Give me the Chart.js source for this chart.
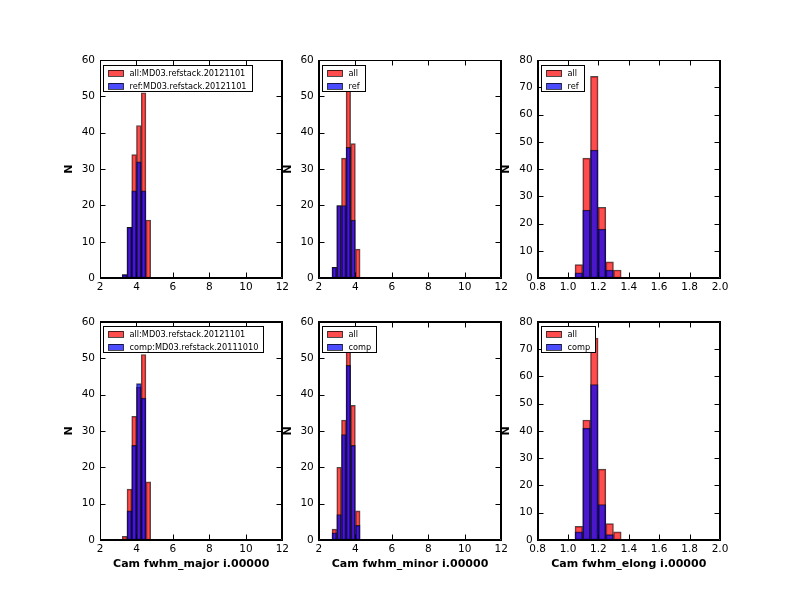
<!DOCTYPE html>
<html>
<head>
<meta charset="utf-8">
<script src="https://cdn.jsdelivr.net/npm/chart.js@4/dist/chart.umd.min.js"></script>
<style>
  body { margin: 0; background: #fff; }
  #fig { position: relative; width: 800px; height: 600px; background: #fff; }
  #fig canvas { position: absolute; left: 0; top: 0; }
</style>
</head>
<body>
<div id="fig"></div>
<script>
// histogram bin centres and counts
const majorBins = [3.35, 3.61, 3.87, 4.13, 4.39, 4.65];
const majorAll = [1, 14, 34, 42, 51, 16];
const majorRef = [1, 14, 24, 32, 24, 0];
const majorComp = [0, 8, 26, 43, 39, 0];

const minorBins = [2.85, 3.11, 3.37, 3.62, 3.88, 4.14];
const minorAll = [3, 20, 33, 57, 37, 8];
const minorRef = [3, 20, 20, 36, 16, 0];
const minorComp = [2, 7, 29, 48, 26, 4];

const elongBins = [1.071, 1.122, 1.173, 1.224, 1.274, 1.325];
const elongAll = [5, 44, 74, 26, 6, 3];
const elongRef = [2, 25, 47, 18, 3, 0];
const elongComp = [3, 41, 57, 13, 2, 0];

// tick labels
const fwhmTicks = [2, 4, 6, 8, 10, 12];
const elongTicks = [0.8, 1.0, 1.2, 1.4, 1.6, 1.8, 2.0];
const count60Ticks = [0, 10, 20, 30, 40, 50, 60];
const count80Ticks = [0, 10, 20, 30, 40, 50, 60, 70, 80];

// legend and axis texts
const allLong = 'all:MD03.refstack.20121101';
const refLong = 'ref:MD03.refstack.20121101';
const compLong = 'comp:MD03.refstack.20111010';
const xTitles = ['Cam fwhm_major i.00000', 'Cam fwhm_minor i.00000', 'Cam fwhm_elong i.00000'];

// subplot grid (matplotlib default 8x6 figure)
const colLeft = [100, 318.8, 537.6];
const colRight = [282.35, 501.2, 720];
const rowTop = [60, 321.8];
const rowBottom = [278.2, 540];

const RED = 'rgba(255, 0, 0, 0.7)';
const BLUE = 'rgba(0, 0, 255, 0.7)';
const EDGE = 'rgba(0, 0, 0, 0.7)';

Chart.defaults.font.family = "'DejaVu Sans', sans-serif";
Chart.defaults.color = '#000';

// inward ticks on all four sides plus the frame, like matplotlib classic
const innerTicks = {
    id: 'innerTicks',
    afterDatasetsDraw(chart) {
        const { ctx, chartArea: a, scales: { x, y } } = chart;
        const top = Math.round(a.top) + 0.5, bottom = Math.round(a.bottom) - 0.5;
        const left = Math.round(a.left) + 0.5, right = Math.round(a.right) - 0.5;
        ctx.save();
        ctx.strokeStyle = '#000';
        ctx.lineWidth = 1;
        ctx.beginPath();
        x.ticks.forEach(t => {
            const p = Math.round(x.getPixelForValue(t.value)) + 0.5;
            ctx.moveTo(p, bottom); ctx.lineTo(p, bottom - 5);
            ctx.moveTo(p, top); ctx.lineTo(p, top + 5);
        });
        y.ticks.forEach(t => {
            const p = Math.round(y.getPixelForValue(t.value)) + 0.5;
            ctx.moveTo(left, p); ctx.lineTo(left + 5, p);
            ctx.moveTo(right, p); ctx.lineTo(right - 5, p);
        });
        ctx.rect(left, top, right - left, bottom - top);
        ctx.stroke();
        ctx.restore();
    }
};

// boxed legend in the upper left corner
const mplLegend = {
    id: 'mplLegend',
    afterDraw(chart) {
        const { ctx, chartArea } = chart;
        const sets = chart.data.datasets;
        ctx.save();
        ctx.font = "8.2px 'DejaVu Sans'";
        const textW = Math.max(...sets.map(d => ctx.measureText(d.label).width));
        const x = Math.round(chartArea.left + 3) + 0.5;
        const y = Math.round(chartArea.top + 4.5) + 0.5;
        const w = Math.round(26.5 + textW + 5);
        const h = 26;
        ctx.fillStyle = '#fff';
        ctx.fillRect(x, y, w, h);
        ctx.strokeStyle = '#000';
        ctx.lineWidth = 1;
        ctx.strokeRect(x, y, w, h);
        sets.forEach((d, i) => {
            const py = Math.round(y + 4 + i * 13.3);
            ctx.fillStyle = d.backgroundColor;
            ctx.fillRect(x + 5, py, 15, 6);
            ctx.strokeStyle = d.borderColor;
            ctx.strokeRect(x + 5, py + 0.5, 15, 6);
            ctx.fillStyle = '#000';
            ctx.textBaseline = 'middle';
            ctx.fillText(d.label, x + 26, py + 3.5);
        });
        ctx.restore();
    }
};

function panel(col, row, p) {
    const fig = document.getElementById('fig');
    const canvas = document.createElement('canvas');
    canvas.width = 800;
    canvas.height = 600;
    canvas.style.width = '800px';
    canvas.style.height = '600px';
    fig.appendChild(canvas);

    const L = colLeft[col], R = colRight[col], T = rowTop[row], B = rowBottom[row];
    const yW = 37.6, y2W = 10, x2H = 10, xH = row === 1 ? 30.3 : 20;
    const tickFont = { size: 10.5 };

    new Chart(canvas, {
        type: 'bar',
        data: {
            datasets: [
                { label: p.labels[0], data: p.bins.map((x, i) => ({ x, y: p.all[i] })),
                  backgroundColor: RED, borderColor: EDGE, borderWidth: 1, order: 1 },
                { label: p.labels[1], data: p.bins.map((x, i) => ({ x, y: p.sub[i] })),
                  backgroundColor: BLUE, borderColor: EDGE, borderWidth: 1, order: 0 }
            ]
        },
        options: {
            responsive: false,
            animation: false,
            events: [],
            layout: { padding: { left: L - yW, top: T - x2H, right: 800 - R - y2W, bottom: 600 - B - xH } },
            datasets: { bar: { grouped: false, barPercentage: 1, categoryPercentage: 1, borderSkipped: false } },
            plugins: { legend: { display: false }, tooltip: { enabled: false } },
            scales: {
                x: {
                    type: 'linear', position: 'bottom', offset: false,
                    min: p.xTicks[0], max: p.xTicks[p.xTicks.length - 1],
                    afterBuildTicks: s => { s.ticks = p.xTicks.map(v => ({ value: v })); },
                    ticks: { font: tickFont, padding: 3, maxRotation: 0, autoSkip: false, callback: p.fmt },
                    grid: { display: false, drawTicks: false },
                    border: { display: true, color: '#000', width: 1 },
                    title: row === 1
                        ? { display: true, text: xTitles[col], font: { size: 11, weight: 'bold' }, padding: 0, color: '#000' }
                        : { display: false },
                    afterFit: s => { s.height = xH; }
                },
                x2: {
                    type: 'linear', position: 'top', min: 0, max: 1, offset: false,
                    ticks: { display: false },
                    grid: { display: false, drawTicks: false },
                    border: { display: true, color: '#000', width: 1 },
                    afterFit: s => { s.height = x2H; }
                },
                y: {
                    type: 'linear', position: 'left',
                    min: 0, max: p.yTicks[p.yTicks.length - 1],
                    afterBuildTicks: s => { s.ticks = p.yTicks.map(v => ({ value: v })); },
                    ticks: { font: tickFont, padding: 5, autoSkip: false },
                    grid: { display: false, drawTicks: false },
                    border: { display: true, color: '#000', width: 1 },
                    title: { display: true, text: 'N', font: { size: 11, weight: 'bold' }, padding: 0, color: '#000' },
                    afterFit: s => { s.width = yW; }
                },
                y2: {
                    type: 'linear', position: 'right', min: 0, max: 1,
                    ticks: { display: false },
                    grid: { display: false, drawTicks: false },
                    border: { display: true, color: '#000', width: 1 },
                    afterFit: s => { s.width = y2W; }
                }
            }
        },
        plugins: [innerTicks, mplLegend]
    });
}

const intFmt = v => String(v);
const oneDec = v => Number(v).toFixed(1);

panel(0, 0, { bins: majorBins, all: majorAll, sub: majorRef, labels: [allLong, refLong], xTicks: fwhmTicks, yTicks: count60Ticks, fmt: intFmt });
panel(1, 0, { bins: minorBins, all: minorAll, sub: minorRef, labels: ['all', 'ref'], xTicks: fwhmTicks, yTicks: count60Ticks, fmt: intFmt });
panel(2, 0, { bins: elongBins, all: elongAll, sub: elongRef, labels: ['all', 'ref'], xTicks: elongTicks, yTicks: count80Ticks, fmt: oneDec });
panel(0, 1, { bins: majorBins, all: majorAll, sub: majorComp, labels: [allLong, compLong], xTicks: fwhmTicks, yTicks: count60Ticks, fmt: intFmt });
panel(1, 1, { bins: minorBins, all: minorAll, sub: minorComp, labels: ['all', 'comp'], xTicks: fwhmTicks, yTicks: count60Ticks, fmt: intFmt });
panel(2, 1, { bins: elongBins, all: elongAll, sub: elongComp, labels: ['all', 'comp'], xTicks: elongTicks, yTicks: count80Ticks, fmt: oneDec });
</script>
</body>
</html>
